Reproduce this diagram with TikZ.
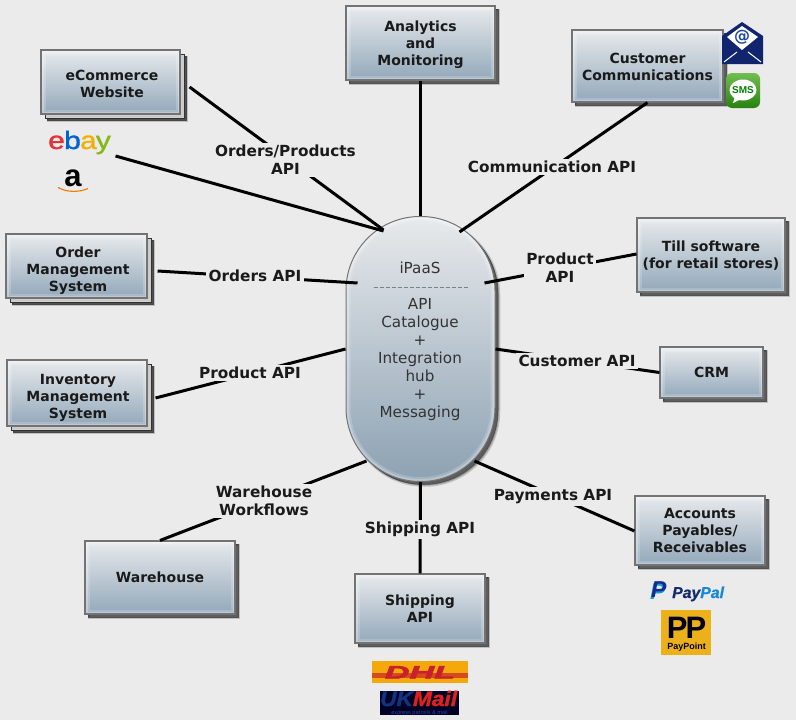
\documentclass[tikz,border=0pt]{standalone}
\usepackage{fontspec}
\setmainfont{DejaVu Sans}
\newfontfamily\logofont{Liberation Sans}
\usetikzlibrary{calc}
\definecolor{pagebg}{HTML}{EBEBEB}
\definecolor{ink}{HTML}{1A1A1A}
\definecolor{boxtop}{HTML}{E8EAEC}
\definecolor{boxbot}{HTML}{92A8BA}
\tikzset{
  x=1pt,y=-1pt,
  glow/.style={path picture={
    \draw[white,opacity=.18,line width=9pt,rounded corners=#1] (path picture bounding box.south west) rectangle (path picture bounding box.north east);
    \draw[white,opacity=.25,line width=5pt,rounded corners=#1] (path picture bounding box.south west) rectangle (path picture bounding box.north east);
  }},
  softshadow/.style={
    preaction={draw=black,fill=black,opacity=.18,line width=2.5pt,transform canvas={shift={(4pt,-4pt)}}},
    preaction={draw=black!80,fill=black!80,opacity=.7,line width=.5pt,transform canvas={shift={(3pt,-3pt)}}}},
  backsheet/.style={
    preaction={draw=black,fill=black,opacity=.18,line width=2.5pt,transform canvas={shift={(7pt,-7pt)}}},
    preaction={draw=black!80,fill=black!80,opacity=.8,line width=.5pt,transform canvas={shift={(6pt,-6pt)}}},
    preaction={draw=black!80,fill=black!20,line width=1pt,transform canvas={shift={(4pt,-4pt)}}}},
  apibox/.style={draw=black!55,line width=1.1pt,top color=boxtop,bottom color=boxbot,glow=0pt,inner sep=0pt},
  boxtext/.style={inner sep=0pt,align=center,text=ink,font=\fontsize{14}{17}\selectfont\bfseries},
  single/.style={apibox,softshadow},
  stacked/.style={apibox,backsheet},
  pill/.style={draw=black!55,line width=1pt,top color=boxtop,bottom color=boxbot!96!black,glow=74pt,softshadow,
    rounded corners=74pt,inner sep=0pt,minimum width=149pt,minimum height=265pt},
  pilltext/.style={align=center,text=black!80,inner sep=0pt,font=\fontsize{15.2}{18}\selectfont},
  link/.style={draw=black,line width=3pt},
  apilabel/.style={fill=pagebg,inner sep=2.5pt,align=center,text=ink,font=\fontsize{15.3}{18}\selectfont\bfseries},
  logotext/.style={inner sep=0pt,anchor=base,font=\logofont},
}
\begin{document}
\begin{tikzpicture}
\useasboundingbox[fill=pagebg] (0,0) rectangle (796,720);

% hub
\node[pill] (ipaas) at (420.5,349) {};
\node[pilltext] (hubtitle) at (420,268) {iPaaS};
\node[pilltext] (hubbody) at (420,360) {API\\Catalogue\\+\\Integration\\hub\\+\\Messaging};
\draw[black!50,line width=1pt,dash pattern=on 4pt off 2pt]
  ([shift={(-47,-62)}]ipaas.center) -- ([shift={(47,-62)}]ipaas.center);

% systems
\node[stacked,minimum width=139pt,minimum height=64pt,label={[boxtext,xshift=1.5pt,yshift=-2pt]center:{eCommerce\\Website}}] (ecom) at (110.5,82) {};
\node[single,minimum width=149pt,minimum height=74pt,label={[boxtext,yshift=-1.5pt]center:{Analytics\\and\\Monitoring}}] (analytics) at (420.5,43) {};
\node[single,minimum width=151pt,minimum height=72pt,label={[boxtext,yshift=-.5pt]center:{Customer\\Communications}}] (comms) at (647.5,66) {};
\node[stacked,minimum width=141pt,minimum height=64pt,label={[boxtext,xshift=1.5pt,yshift=-5pt]center:{Order\\Management\\System}}] (orders) at (76.5,266) {};
\node[stacked,minimum width=140pt,minimum height=66pt,label={[boxtext,xshift=1pt,yshift=-4.5pt]center:{Inventory\\Management\\System}}] (inventory) at (77,393) {};
\node[single,minimum width=148pt,minimum height=74pt,label={[boxtext,yshift=-1pt]center:{Till software\\(for retail stores)}}] (till) at (711,255) {};
\node[single,minimum width=103pt,minimum height=51pt,label={[boxtext]center:{CRM}}] (crm) at (711.5,372.5) {};
\node[single,minimum width=130pt,minimum height=69pt,label={[boxtext]center:{Accounts\\Payables/\\Receivables}}] (accounts) at (700,530.5) {};
\node[single,minimum width=130pt,minimum height=69pt,label={[boxtext,yshift=-.5pt]center:{Shipping\\API}}] (shipping) at (420,608.5) {};
\node[single,minimum width=150pt,minimum height=73pt,label={[boxtext]center:{Warehouse}}] (warehouse) at (160,577.5) {};

% connectors
\draw[link] ([shift={(9,5)}]ecom.east) -- ([shift={(-37,-119)}]ipaas.center);
\draw[link] ([shift={(-37,-118)}]ipaas.center) -- ([shift={(-65,74)}]ecom.east);
\draw[link] (analytics.south) -- (ipaas.north);
\draw[link] (comms.south) -- ([shift={(39,-117)}]ipaas.center);
\draw[link] ([shift={(10,5)}]orders.east) -- ([shift={(-63,-66)}]ipaas.center);
\draw[link] ([shift={(8,5)}]inventory.east) -- ([shift={(0,0)}]ipaas.west);
\draw[link] ([shift={(64,-66)}]ipaas.center) -- ([shift={(0,-1)}]till.west);
\draw[link] (ipaas.east) -- (crm.west);
\draw[link] ([shift={(-54,112)}]ipaas.center) -- (warehouse.north);
\draw[link] (ipaas.south) -- (shipping.north);
\draw[link] ([shift={(54,112)}]ipaas.center) -- ([shift={(0,0.5)}]accounts.west);

% connector labels
\node[apilabel] (lorders) at (285.5,160) {Orders/Products\\API};
\node[apilabel] (lcomm) at (552,167) {Communication API};
\node[apilabel] (lprodr) at (560,268) {Product\\API};
\node[apilabel] (lordapi) at (255,276) {Orders API};
\node[apilabel] (lprodl) at (250,373) {Product API};
\node[apilabel] (lcust) at (577,361) {Customer API};
\node[apilabel] (lware) at (264,501) {Warehouse\\Workflows};
\node[apilabel] (lship) at (420,529.5) {Shipping API};
\node[apilabel] (lpay) at (553,496.5) {Payments API};

% ebay and amazon
\node[logotext,anchor=base west,font=\logofont\addfontfeature{FakeBold=1.2}\fontsize{25}{25}\selectfont] (ebay) at (48,149)
  {\scalebox{1.2}[1]{\textcolor[HTML]{E53238}{e}\kern-.6pt\textcolor[HTML]{0064D2}{b}\kern-.6pt\textcolor[HTML]{F5AF02}{a}\kern-.8pt\textcolor[HTML]{86B817}{y}}};
\node[logotext,font=\logofont\bfseries\fontsize{31}{31}\selectfont,text=black] (amazon) at (73,186.5) {a};
\draw[orange!90!red,line width=1.1pt] (58,187.5) .. controls (68,193) and (80,192) .. (88,188.5);

% envelope
\fill[fill={rgb,255:red,16;green,37;blue,110}] (722,36) -- (742,22) -- (763,36) -- (763,64) -- (722,64) -- cycle;
\fill[white] (727,37) -- (742,26) -- (758,37) -- (742,50) -- cycle;
\draw[white,line width=1pt] (724,62) -- (737,52) (761,62) -- (748,52);
\node[inner sep=0pt,text={rgb,255:red,29;green,74;blue,158},font=\fontsize{16}{16}\selectfont\bfseries] (atsign) at (742,37) {@};

% sms
\shade[top color={rgb,255:red,112;green,190;blue,80},bottom color={rgb,255:red,40;green,130;blue,16},rounded corners=6pt] (726,73) rectangle (760,108);
\fill[white] (743,90) ellipse [x radius=13.5,y radius=10.5];
\fill[white] (735,96) -- (733,103) -- (741,99) -- cycle;
\node[inner sep=0pt,text=green!50!black,font=\logofont\bfseries\fontsize{10}{10}\selectfont] (sms) at (743,90) {SMS};

% paypal
\node[logotext,anchor=base west,font=\logofont\bfseries\itshape\fontsize{23}{23}\selectfont] (ppicon) at (650,599)
  {\textcolor[HTML]{179BD7}{P}\kern-14.5pt\raisebox{1.5pt}{\textcolor[HTML]{142C8E}{P}}};
\node[logotext,anchor=base west,font=\logofont\bfseries\itshape\addfontfeature{FakeBold=.8}\fontsize{15.8}{16}\selectfont] (paypal) at (672,598)
  {\textcolor[HTML]{142C6E}{Pay}\textcolor[HTML]{1787D7}{Pal}};

% paypoint
\fill[fill={rgb,255:red,236;green,177;blue,26}] (661,610) rectangle (711,655);
\node[inner sep=0pt,align=center,text=black!90!blue,font=\logofont\bfseries\fontsize{31}{11}\selectfont] (paypoint) at (686.5,634.5) {P\kern-2pt P\\[0pt]{\fontsize{9}{11}\selectfont PayPoint}};

% dhl
\fill[fill={rgb,255:red,245;green,168;blue,11}] (372,661) rectangle (468,683);
\fill[fill={rgb,255:red,214;green,74;blue,28}] (372,673) rectangle (468,678);
\node[logotext,font=\logofont\bfseries\itshape\addfontfeature{FakeBold=2.5}\fontsize{18}{18}\selectfont,text={rgb,255:red,200;green,32;blue,44}] (dhl) at (420,678.5) {\scalebox{1.9}[1]{DHL}};

% ukmail
\fill[black!85!blue] (380,691) rectangle (459,715);
\node[logotext,anchor=base west,font=\logofont\bfseries\itshape\addfontfeature{FakeBold=1.5}\fontsize{21}{21}\selectfont] (ukmail) at (380,706)
  {\scalebox{1.08}[1]{\textcolor[HTML]{12337F}{UK}\textcolor[HTML]{E0201C}{Mail}}};
\node[logotext,font=\logofont\fontsize{5.6}{6}\selectfont,text={rgb,255:red,40;green,70;blue,170}] (uktag) at (419.5,714.5) {express parcels \& mail};
\end{tikzpicture}
\end{document}
